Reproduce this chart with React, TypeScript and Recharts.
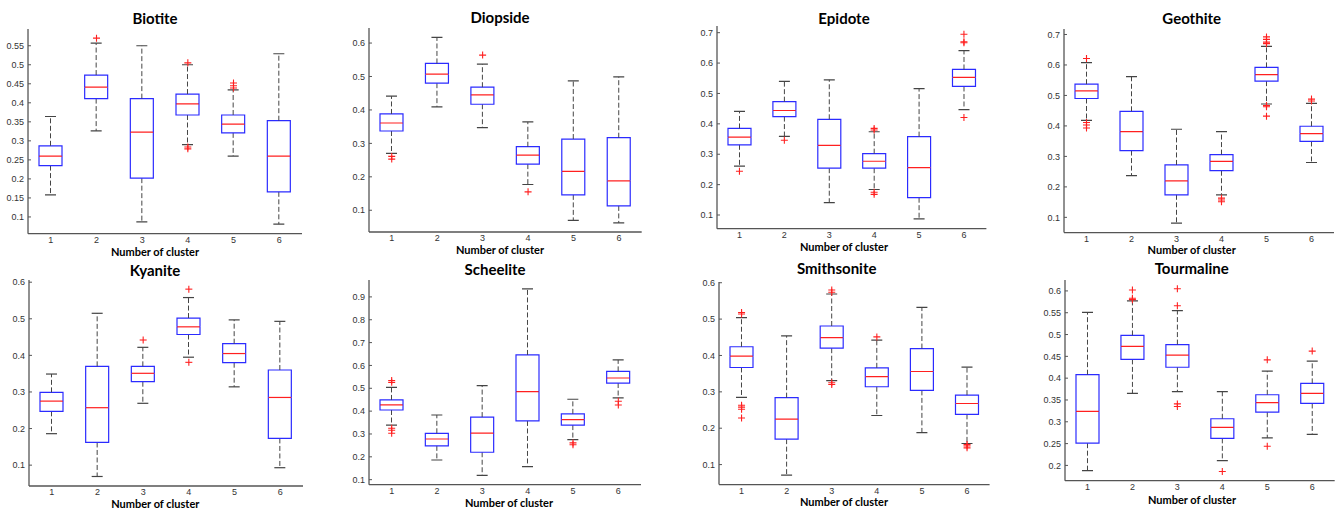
import React from "react";
import { ComposedChart, Bar, Scatter, XAxis, YAxis, CartesianGrid } from "recharts";

// cluster ids on the x axis
const clusters = ["1", "2", "3", "4", "5", "6"];

// each row: [lower whisker, q1, median, q3, upper whisker] for clusters 1..6
const biotite = [
  [0.158, 0.235, 0.26, 0.287, 0.364],
  [0.326, 0.411, 0.441, 0.473, 0.557],
  [0.087, 0.202, 0.323, 0.411, 0.55],
  [0.29, 0.368, 0.397, 0.423, 0.5],
  [0.26, 0.321, 0.344, 0.368, 0.434],
  [0.081, 0.166, 0.26, 0.353, 0.529],
];
const biotiteOut = [[2, 0.57], [4, 0.505], [4, 0.284], [4, 0.279], [5, 0.452], [5, 0.445], [5, 0.439]];
const biotiteTicks = [0.1, 0.15, 0.2, 0.25, 0.3, 0.35, 0.4, 0.45, 0.5, 0.55];
const biotiteRange = [0.056, 0.594];

const diopside = [
  [0.27, 0.337, 0.361, 0.388, 0.441],
  [0.409, 0.48, 0.507, 0.539, 0.617],
  [0.347, 0.417, 0.445, 0.468, 0.537],
  [0.177, 0.238, 0.265, 0.29, 0.364],
  [0.07, 0.146, 0.216, 0.313, 0.487],
  [0.062, 0.113, 0.188, 0.317, 0.499],
];
const diopsideOut = [[1, 0.261], [1, 0.253], [3, 0.564], [4, 0.155]];
const diopsideTicks = [0.1, 0.2, 0.3, 0.4, 0.5, 0.6];
const diopsideRange = [0.035, 0.645];

const epidote = [
  [0.261, 0.331, 0.356, 0.385, 0.441],
  [0.359, 0.424, 0.444, 0.473, 0.54],
  [0.141, 0.254, 0.329, 0.415, 0.545],
  [0.184, 0.254, 0.277, 0.302, 0.374],
  [0.087, 0.157, 0.256, 0.358, 0.516],
  [0.447, 0.523, 0.553, 0.579, 0.641],
];
const epidoteOut = [
  [1, 0.244], [2, 0.346], [4, 0.385], [4, 0.38], [4, 0.175], [4, 0.168],
  [6, 0.695], [6, 0.67], [6, 0.667], [6, 0.421],
];
const epidoteTicks = [0.1, 0.2, 0.3, 0.4, 0.5, 0.6, 0.7];
const epidoteRange = [0.055, 0.722];

const geothite = [
  [0.418, 0.49, 0.515, 0.537, 0.608],
  [0.237, 0.319, 0.381, 0.448, 0.562],
  [0.081, 0.174, 0.22, 0.272, 0.389],
  [0.174, 0.253, 0.284, 0.306, 0.381],
  [0.472, 0.547, 0.568, 0.592, 0.661],
  [0.28, 0.349, 0.375, 0.399, 0.474],
];
const geothiteOut = [
  [1, 0.621], [1, 0.411], [1, 0.403], [1, 0.393], [4, 0.163], [4, 0.157], [4, 0.151],
  [5, 0.692], [5, 0.684], [5, 0.675], [5, 0.67], [5, 0.467], [5, 0.463], [5, 0.432],
  [6, 0.488], [6, 0.482],
];
const geothiteTicks = [0.1, 0.2, 0.3, 0.4, 0.5, 0.6, 0.7];
const geothiteRange = [0.05, 0.718];

const kyanite = [
  [0.186, 0.247, 0.275, 0.299, 0.349],
  [0.069, 0.162, 0.257, 0.37, 0.515],
  [0.269, 0.328, 0.351, 0.37, 0.422],
  [0.395, 0.457, 0.478, 0.502, 0.558],
  [0.314, 0.38, 0.405, 0.432, 0.497],
  [0.093, 0.173, 0.285, 0.36, 0.493],
];
const kyaniteOut = [[3, 0.442], [4, 0.581], [4, 0.381]];
const kyaniteTicks = [0.1, 0.2, 0.3, 0.4, 0.5, 0.6];
const kyaniteRange = [0.043, 0.606];

const scheelite = [
  [0.339, 0.405, 0.427, 0.449, 0.504],
  [0.186, 0.248, 0.278, 0.303, 0.383],
  [0.119, 0.22, 0.304, 0.374, 0.512],
  [0.157, 0.357, 0.485, 0.646, 0.935],
  [0.275, 0.339, 0.363, 0.388, 0.452],
  [0.458, 0.523, 0.545, 0.574, 0.624],
];
const scheeliteOut = [
  [1, 0.534], [1, 0.526], [1, 0.325], [1, 0.316], [1, 0.303],
  [5, 0.261], [5, 0.253], [6, 0.443], [6, 0.427],
];
const scheeliteTicks = [0.1, 0.2, 0.3, 0.4, 0.5, 0.6, 0.7, 0.8, 0.9];
const scheeliteRange = [0.078, 0.974];

const smithsonite = [
  [0.285, 0.367, 0.398, 0.424, 0.504],
  [0.071, 0.17, 0.225, 0.284, 0.454],
  [0.331, 0.42, 0.449, 0.481, 0.569],
  [0.235, 0.314, 0.342, 0.366, 0.442],
  [0.188, 0.304, 0.356, 0.419, 0.532],
  [0.158, 0.238, 0.268, 0.291, 0.368],
];
const smithsoniteOut = [
  [1, 0.518], [1, 0.514], [1, 0.263], [1, 0.258], [1, 0.252], [1, 0.228],
  [3, 0.58], [3, 0.574], [3, 0.325], [3, 0.32], [4, 0.451],
  [6, 0.155], [6, 0.151], [6, 0.146],
];
const smithsoniteTicks = [0.1, 0.2, 0.3, 0.4, 0.5, 0.6];
const smithsoniteRange = [0.045, 0.602];

const tourmaline = [
  [0.188, 0.251, 0.324, 0.408, 0.551],
  [0.365, 0.443, 0.473, 0.498, 0.577],
  [0.369, 0.425, 0.453, 0.477, 0.555],
  [0.211, 0.262, 0.287, 0.307, 0.369],
  [0.263, 0.322, 0.344, 0.362, 0.416],
  [0.271, 0.342, 0.365, 0.388, 0.439],
];
const tourmalineOut = [
  [2, 0.602], [2, 0.583], [2, 0.58], [3, 0.605], [3, 0.566], [3, 0.341], [3, 0.335],
  [4, 0.186], [5, 0.442], [5, 0.244], [6, 0.462],
];
const tourmalineTicks = [0.2, 0.25, 0.3, 0.35, 0.4, 0.45, 0.5, 0.55, 0.6];
const tourmalineRange = [0.165, 0.625];

const BLUE = "#2b2bff";
const RED = "#ff2020";
const WHISK = "#444";
const FRAME = "#555";
const CAP = 5.5;
const TICK_FONT = { fontSize: 9, fill: "#333", fontFamily: "'Liberation Sans', Arial, sans-serif" };

// frame = plot box [left, top, right, bottom]; title/label = [centre x, baseline y]
const panels = [
  { name: "Biotite", box: biotite, out: biotiteOut, ticks: biotiteTicks, range: biotiteRange, frame: [27.7, 29.3, 301.7, 234], title: [155, 24.3], label: [155, 255.8] },
  { name: "Diopside", box: diopside, out: diopsideOut, ticks: diopsideTicks, range: diopsideRange, frame: [369, 28.3, 641.7, 232.3], title: [500, 23], label: [500, 254] },
  { name: "Epidote", box: epidote, out: epidoteOut, ticks: epidoteTicks, range: epidoteRange, frame: [717.3, 26, 986.7, 228.7], title: [844, 24], label: [844, 251] },
  { name: "Geothite", box: geothite, out: geothiteOut, ticks: geothiteTicks, range: geothiteRange, frame: [1064, 28.7, 1334, 232.3], title: [1191.7, 24], label: [1191.7, 254] },
  { name: "Kyanite", box: kyanite, out: kyaniteOut, ticks: kyaniteTicks, range: kyaniteRange, frame: [29.3, 280, 303.3, 486], title: [155, 276], label: [155.3, 507.5] },
  { name: "Scheelite", box: scheelite, out: scheeliteOut, ticks: scheeliteTicks, range: scheeliteRange, frame: [369, 280.3, 641, 485], title: [495, 275.7], label: [509, 507] },
  { name: "Smithsonite", box: smithsonite, out: smithsoniteOut, ticks: smithsoniteTicks, range: smithsoniteRange, frame: [718.7, 281.7, 989.3, 484.3], title: [836.7, 274.3], label: [844, 506] },
  { name: "Tourmaline", box: tourmaline, out: tourmalineOut, ticks: tourmalineTicks, range: tourmalineRange, frame: [1065.3, 280, 1335, 480.7], title: [1191.7, 274.3], label: [1192, 503.5] },
];

const LowWhisker = (props: any) => {
  const { x, y, width, height } = props;
  const cx = x + width / 2;
  return (
    <g>
      <line x1={cx} x2={cx} y1={y} y2={y + height} stroke={WHISK} strokeWidth={1} strokeDasharray="5 2.5" />
      <line x1={cx - CAP} x2={cx + CAP} y1={y + height} y2={y + height} stroke={WHISK} strokeWidth={1.2} />
    </g>
  );
};

const HighWhisker = (props: any) => {
  const { x, y, width, height } = props;
  const cx = x + width / 2;
  return (
    <g>
      <line x1={cx} x2={cx} y1={y + height} y2={y} stroke={WHISK} strokeWidth={1} strokeDasharray="5 2.5" />
      <line x1={cx - CAP} x2={cx + CAP} y1={y} y2={y} stroke={WHISK} strokeWidth={1.2} />
    </g>
  );
};

const BoxLow = (props: any) => {
  const { x, y, width, height } = props;
  return (
    <g>
      <path d={`M${x},${y} V${y + height} H${x + width} V${y}`} fill="none" stroke={BLUE} strokeWidth={1.2} />
      <line x1={x} x2={x + width} y1={y} y2={y} stroke={RED} strokeWidth={1.2} />
    </g>
  );
};

const BoxHigh = (props: any) => {
  const { x, y, width, height } = props;
  return (
    <path d={`M${x},${y + height} V${y} H${x + width} V${y + height}`} fill="none" stroke={BLUE} strokeWidth={1.2} />
  );
};

const Plus = (props: any) => {
  const { cx, cy } = props;
  return (
    <g stroke={RED} strokeWidth={1.1}>
      <line x1={cx - 3.5} x2={cx + 3.5} y1={cy} y2={cy} />
      <line x1={cx} x2={cx} y1={cy - 3.5} y2={cy + 3.5} />
    </g>
  );
};

function Text({ at, size, children }: any) {
  return (
    <div
      style={{
        position: "absolute", left: at[0] - 100, width: 200, top: at[1] - 0.887 * size,
        fontSize: size, lineHeight: `${size}px`, fontWeight: 700, textAlign: "center",
        fontFamily: "Lato, 'Open Sans', sans-serif", color: "#000", whiteSpace: "nowrap",
      }}
    >
      {children}
    </div>
  );
}

function BoxPanel({ p }: any) {
  const [x0, y0, x1, y1] = p.frame;
  const ML = 40, MR = 4, MT = 4, MB = 22;
  const W = x1 - x0 + ML + MR;
  const H = y1 - y0 + MT + MB;
  const rows = clusters.map((c, i) => {
    const [lo, q1, md, q3, hi] = p.box[i];
    return { c, base: lo, lw: q1 - lo, bl: md - q1, bu: q3 - md, uw: hi - q3 };
  });
  const pts = p.out.map(([x, v]: number[]) => ({ x, v }));
  const axisLine = { stroke: FRAME, strokeWidth: 1.3 };
  return (
    <>
      <Text at={p.title} size={15}>{p.name}</Text>
      <div style={{ position: "absolute", left: x0 - ML, top: y0 - MT }}>
        <ComposedChart width={W} height={H} data={rows} margin={{ top: MT, right: MR, bottom: 0, left: 0 }}>
          <CartesianGrid horizontal={false} vertical={false} fill="#fff" />
          <XAxis dataKey="c" height={MB} interval={0} tickSize={0} tickMargin={3} tick={TICK_FONT}
            axisLine={axisLine} tickLine={false} />
          <XAxis xAxisId="t" orientation="top" type="number" domain={[0.5, 6.5]} allowDataOverflow
            height={0} tick={false} tickLine={false} axisLine={axisLine} />
          <XAxis xAxisId="n" type="number" dataKey="x" domain={[0.5, 6.5]} allowDataOverflow hide />
          <YAxis domain={p.range} ticks={p.ticks} allowDataOverflow width={ML} interval={0} tickSize={-3}
            tickMargin={7} tick={TICK_FONT} tickFormatter={(v: number) => String(v)}
            axisLine={axisLine} tickLine={{ stroke: FRAME }} />
          <YAxis yAxisId="r" orientation="right" domain={p.range} ticks={p.ticks} allowDataOverflow width={0}
            interval={0} tick={false} tickSize={-3} axisLine={axisLine} tickLine={{ stroke: FRAME }} />
          <Bar dataKey="base" stackId="s" barSize={23} fill="none" stroke="none" isAnimationActive={false} />
          <Bar dataKey="lw" stackId="s" barSize={23} shape={LowWhisker} isAnimationActive={false} />
          <Bar dataKey="bl" stackId="s" barSize={23} shape={BoxLow} isAnimationActive={false} />
          <Bar dataKey="bu" stackId="s" barSize={23} shape={BoxHigh} isAnimationActive={false} />
          <Bar dataKey="uw" stackId="s" barSize={23} shape={HighWhisker} isAnimationActive={false} />
          <Scatter data={pts} xAxisId="n" dataKey="v" shape={Plus} isAnimationActive={false} />
        </ComposedChart>
      </div>
      <Text at={p.label} size={11}>Number of cluster</Text>
    </>
  );
}

export default function App() {
  return (
    <div style={{ position: "absolute", left: 0, top: 0, width: 1341, height: 509, background: "#fff", overflow: "hidden" }}>
      {panels.map((p) => (
        <BoxPanel key={p.name} p={p} />
      ))}
    </div>
  );
}
